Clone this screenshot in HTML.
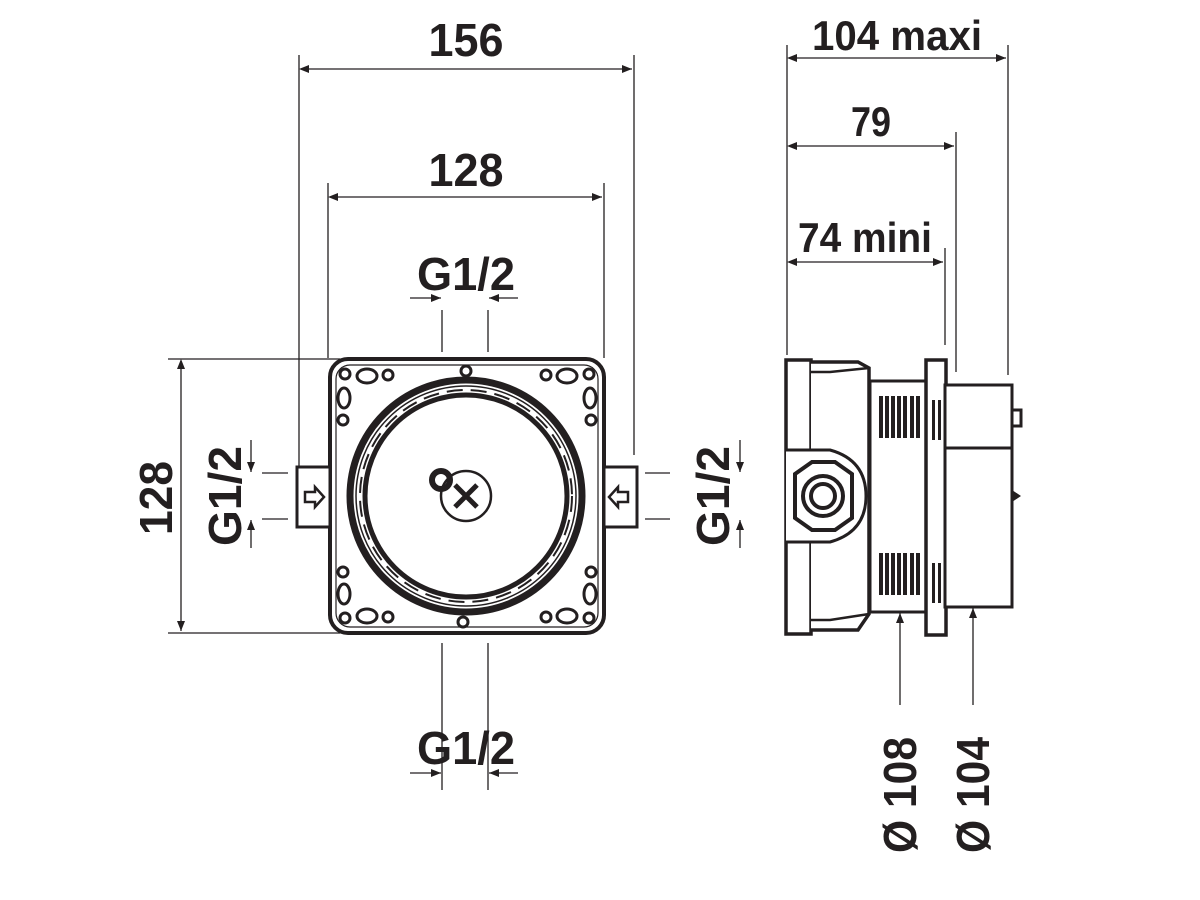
<!DOCTYPE html>
<html><head><style>
html,body{margin:0;padding:0;background:#fff;}
svg{display:block;}
text{font-family:"Liberation Sans",sans-serif;font-weight:bold;fill:#231f20;}
</style></head><body>
<svg width="1200" height="900" viewBox="0 0 1200 900" xmlns="http://www.w3.org/2000/svg">
<defs>
<marker id="a" markerWidth="10" markerHeight="8" refX="10" refY="4" orient="auto" markerUnits="userSpaceOnUse">
<path d="M0,0 L10,4 L0,8 Z" fill="#231f20"/></marker>
</defs>
<g stroke="#231f20" stroke-width="1.3" fill="none">
<line x1="299" y1="55" x2="299" y2="466"/><line x1="634" y1="55" x2="634" y2="455"/>
<line x1="301" y1="69" x2="632" y2="69" marker-end="url(#a)"/>
<line x1="328" y1="183" x2="328" y2="358"/><line x1="604" y1="183" x2="604" y2="358"/>
<line x1="330" y1="197" x2="602" y2="197" marker-end="url(#a)"/>
<line x1="442" y1="310" x2="442" y2="352"/><line x1="488" y1="310" x2="488" y2="352"/>
<line x1="410" y1="298" x2="441" y2="298" marker-end="url(#a)"/><line x1="518" y1="298" x2="489" y2="298" marker-end="url(#a)"/>
<line x1="442" y1="643" x2="442" y2="790"/><line x1="488" y1="643" x2="488" y2="790"/>
<line x1="410" y1="773" x2="441" y2="773" marker-end="url(#a)"/><line x1="518" y1="773" x2="489" y2="773" marker-end="url(#a)"/>
<line x1="168" y1="359" x2="340" y2="359"/><line x1="168" y1="633" x2="340" y2="633"/>
<line x1="181" y1="361" x2="181" y2="631" marker-end="url(#a)"/>
<line x1="262" y1="473" x2="288" y2="473"/><line x1="262" y1="519" x2="288" y2="519"/>
<line x1="251" y1="440" x2="251" y2="472" marker-end="url(#a)"/><line x1="251" y1="548" x2="251" y2="520" marker-end="url(#a)"/>
<line x1="645" y1="473" x2="670" y2="473"/><line x1="645" y1="519" x2="670" y2="519"/>
<line x1="740" y1="440" x2="740" y2="472" marker-end="url(#a)"/><line x1="740" y1="548" x2="740" y2="520" marker-end="url(#a)"/>
<line x1="787" y1="45" x2="787" y2="355"/><line x1="1008" y1="45" x2="1008" y2="375"/>
<line x1="956" y1="132" x2="956" y2="372"/><line x1="945" y1="248" x2="945" y2="345"/>
<line x1="789" y1="58" x2="1006" y2="58" marker-end="url(#a)"/>
<line x1="789" y1="146" x2="954" y2="146" marker-end="url(#a)"/>
<line x1="789" y1="262" x2="943" y2="262" marker-end="url(#a)"/>
<line x1="900" y1="705" x2="900" y2="613" marker-end="url(#a)"/>
<line x1="973" y1="705" x2="973" y2="608" marker-end="url(#a)"/>
</g>
<g fill="#231f20">
<path d="M299,69 l10,-4 v8z"/><path d="M328,197 l10,-4 v8z"/>
<path d="M181,359 l-4,10 h8z"/>
<path d="M787,58 l10,-4 v8z"/><path d="M787,146 l10,-4 v8z"/><path d="M787,262 l10,-4 v8z"/>
</g>
<g stroke="#231f20" fill="none">
<rect x="330" y="359" width="274" height="274" rx="18" stroke-width="4"/>
<rect x="336" y="365" width="262" height="262" rx="14" stroke-width="1.2"/>
<rect x="297" y="467" width="33" height="60" stroke-width="3" fill="#fff"/>
<rect x="604" y="467" width="33" height="60" stroke-width="3" fill="#fff"/>
<path d="M305,492 h10 v-5 l9,10 -9,10 v-5 h-10z" stroke-width="2.5"/>
<path d="M628,492 h-10 v-5 l-9,10 9,10 v-5 h10z" stroke-width="2.5"/>
<circle cx="466" cy="496" r="116" stroke-width="7"/>
<circle cx="466" cy="496" r="110" stroke-width="1.5"/>
<circle cx="466" cy="496" r="106" stroke-width="2" stroke-dasharray="16 8"/>
<circle cx="466" cy="496" r="101" stroke-width="5"/>
<circle cx="466" cy="496" r="25" stroke-width="2.5"/>
<path d="M455,485 L477,507 M477,485 L455,507" stroke-width="5"/>
<circle cx="441" cy="480" r="9" stroke-width="6"/>
<circle cx="466" cy="371" r="5" stroke-width="3"/>
<circle cx="463" cy="622" r="5" stroke-width="3"/>
<g stroke-width="3">
<ellipse cx="367" cy="376" rx="10" ry="7"/><circle cx="345" cy="374" r="5"/><circle cx="388" cy="375" r="5"/>
<ellipse cx="344" cy="398" rx="6" ry="10"/><circle cx="343" cy="420" r="5"/>
<ellipse cx="567" cy="376" rx="10" ry="7"/><circle cx="589" cy="374" r="5"/><circle cx="546" cy="375" r="5"/>
<ellipse cx="590" cy="398" rx="6" ry="10"/><circle cx="591" cy="420" r="5"/>
<ellipse cx="367" cy="616" rx="10" ry="7"/><circle cx="345" cy="618" r="5"/><circle cx="388" cy="617" r="5"/>
<ellipse cx="344" cy="594" rx="6" ry="10"/><circle cx="343" cy="572" r="5"/>
<ellipse cx="567" cy="616" rx="10" ry="7"/><circle cx="589" cy="618" r="5"/><circle cx="546" cy="617" r="5"/>
<ellipse cx="590" cy="594" rx="6" ry="10"/><circle cx="591" cy="572" r="5"/>
</g>
</g>
<g stroke="#231f20" fill="#fff" stroke-width="3.5">
<rect x="786" y="360" width="25" height="274"/>
<path d="M811,362 H858 L869,368 V614 L858,630 H811"/>
<path d="M811,372 H830 L869,368 M811,620 H830 L869,614" fill="none" stroke-width="2.5"/>
<rect x="870" y="381" width="57" height="231" stroke-width="3"/>
<rect x="926" y="360" width="20" height="275"/>
<rect x="945" y="385" width="67" height="222" stroke-width="3"/>
<line x1="945" y1="448" x2="1012" y2="448" stroke-width="3"/>
<rect x="1012" y="410" width="9" height="16" stroke-width="3"/>
<path d="M786,450 H830 Q866,460 866,496 Q866,532 830,542 H786" stroke-width="3"/>
<path d="M795,474 L812,462 L835,462 L852,474 V518 L835,530 L812,530 L795,518 Z" stroke-width="4"/>
<circle cx="823" cy="496" r="20" stroke-width="4"/>
<circle cx="823" cy="496" r="12" stroke-width="4"/>
</g>
<g fill="#231f20">
<rect x="879" y="396" width="4" height="42"/><rect x="885" y="396" width="4" height="42"/><rect x="891" y="396" width="4" height="42"/><rect x="897" y="396" width="4" height="42"/><rect x="903" y="396" width="4" height="42"/><rect x="910" y="396" width="4" height="42"/><rect x="916" y="396" width="4" height="42"/><rect x="932" y="400" width="3" height="40"/><rect x="938" y="400" width="3" height="40"/>
<rect x="879" y="553" width="4" height="42"/><rect x="885" y="553" width="4" height="42"/><rect x="891" y="553" width="4" height="42"/><rect x="897" y="553" width="4" height="42"/><rect x="903" y="553" width="4" height="42"/><rect x="910" y="553" width="4" height="42"/><rect x="916" y="553" width="4" height="42"/><rect x="932" y="563" width="3" height="40"/><rect x="938" y="563" width="3" height="40"/>
<path d="M1012,490 l9,6 -9,6z"/>
</g>
<g font-size="46" text-anchor="middle" lengthAdjust="spacingAndGlyphs">
<text x="466" y="56" textLength="75" lengthAdjust="spacingAndGlyphs">156</text>
<text x="466" y="186" textLength="75" lengthAdjust="spacingAndGlyphs">128</text>
<text x="466" y="290" textLength="98" lengthAdjust="spacingAndGlyphs">G1/2</text>
<text x="466" y="764" textLength="98" lengthAdjust="spacingAndGlyphs">G1/2</text>
<text x="897" y="50" font-size="42" textLength="170" lengthAdjust="spacingAndGlyphs">104 maxi</text>
<text x="871" y="136" font-size="42" textLength="40" lengthAdjust="spacingAndGlyphs">79</text>
<text x="865" y="252" font-size="42" textLength="134" lengthAdjust="spacingAndGlyphs">74 mini</text>
<text transform="translate(172,498) rotate(-90)" textLength="74" lengthAdjust="spacingAndGlyphs">128</text>
<text transform="translate(241,496) rotate(-90)" textLength="100" lengthAdjust="spacingAndGlyphs">G1/2</text>
<text transform="translate(729,496) rotate(-90)" textLength="100" lengthAdjust="spacingAndGlyphs">G1/2</text>
<text transform="translate(916,795) rotate(-90)" textLength="116" lengthAdjust="spacingAndGlyphs">Ø 108</text>
<text transform="translate(989,795) rotate(-90)" textLength="116" lengthAdjust="spacingAndGlyphs">Ø 104</text>
</g>
</svg>
</body></html>
